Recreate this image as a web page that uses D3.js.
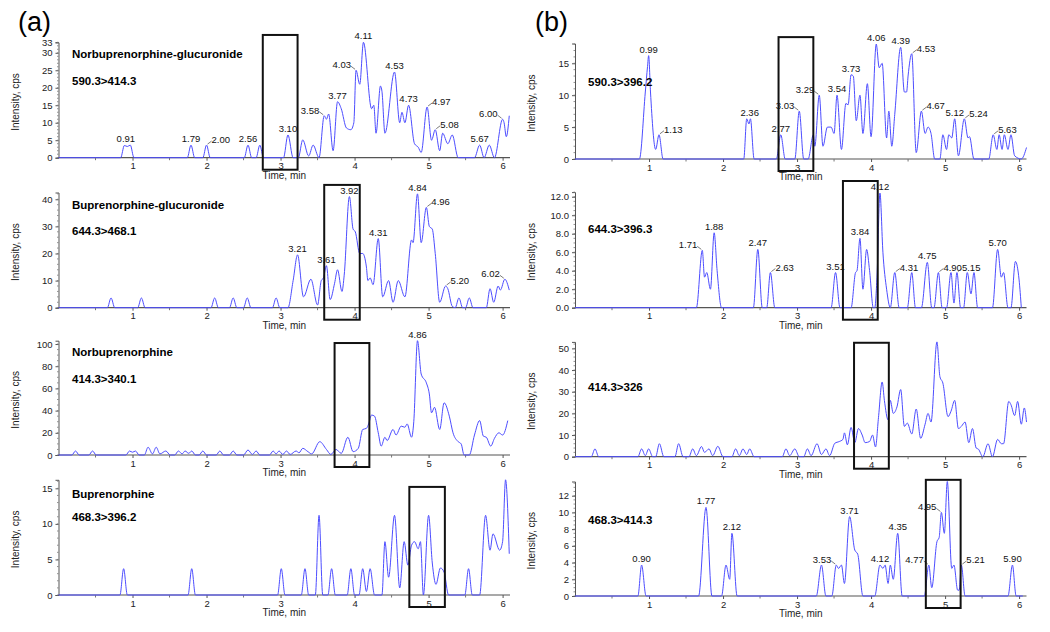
<!DOCTYPE html>
<html><head><meta charset="utf-8">
<script src="https://cdn.jsdelivr.net/npm/d3@7"></script>
<style>
body{margin:0;background:#fff;}
svg{display:block;font-family:"Liberation Sans",Arial,sans-serif;}
</style></head><body>
<svg id="chart" width="1050" height="632"></svg>
<script>
// ---------- DATA ----------
const traceA1 = [[0,0],[0.84,0],[0.89,3.5],[0.93,3.2],[0.97,3.6],[1.02,0],
 [1.74,0],[1.79,3.6],[1.84,0],[1.95,0],[2.0,3.6],[2.05,0],
 [2.51,0],[2.56,3.6],[2.61,0],[2.67,0],[2.72,3.6],[2.77,0],
 [3.04,0],[3.1,6.5],[3.17,0],[3.24,0],[3.30,5.1],[3.38,0.5],[3.44,3.6],[3.52,0],
 [3.59,12],[3.62,11],[3.65,12.5],[3.71,2],[3.77,16],[3.82,14],[3.89,8.5],[3.95,8],[3.99,10],[4.02,25],[4.07,21],[4.12,33],
 [4.23,14],[4.26,15],[4.29,7],[4.35,20.5],[4.37,19],[4.41,7],[4.54,24.5],[4.61,10],[4.64,13],[4.68,10],[4.73,15],
 [4.81,4],[4.86,3],[4.90,1.5],[4.98,14.5],[5.04,5],[5.09,8],[5.15,2],[5.19,7],[5.26,4],[5.32,6.5],[5.40,0],
 [5.62,0],[5.69,3.6],[5.75,0],[5.82,3.6],[5.89,0],[6.0,11],[6.02,10],[6.05,6],[6.09,12]];
const labelsA1 = [[0.91,3.6,"0.91","c"],[1.79,3.6,"1.79","c"],[2.0,3.6,"2.00","r"],[2.56,3.6,"2.56","c"],[3.1,6.5,"3.10","c"],
 [3.59,12,"3.58","l"],[3.77,16,"3.77","c"],[4.02,25,"4.03","l"],[4.12,33,"4.11","c"],[4.54,24.5,"4.53","c"],
 [4.73,15,"4.73","c"],[4.98,14.5,"4.97","r"],[5.09,8,"5.08","r"],[5.69,3.6,"5.67","c"],[6.0,11,"6.00","l"]];
const boxA1 = [2.76,3.23,35.1];
const ticksA1 = [0,5,10,15,20,25,30,33];

const traceA2 = [[0,0],[0.66,0],[0.71,3.6],[0.76,0],[1.07,0],[1.12,3.6],[1.17,0],
 [2.06,0],[2.11,3.6],[2.16,0],[2.31,0],[2.36,3.6],[2.41,0],[2.50,0],[2.55,3.6],[2.60,0],[2.89,0],[2.94,3.6],[2.99,0],
 [3.10,0],[3.17,10],[3.23,19.5],[3.31,4],[3.41,10.5],[3.50,1],[3.55,10],[3.58,11],[3.62,15.5],[3.67,3],[3.73,9],[3.77,14],
 [3.83,6],[3.86,12],[3.93,41],[3.98,29],[4.01,28],[4.07,20],[4.11,20],[4.16,15],[4.18,10],[4.21,11],[4.25,8.5],[4.32,25.5],
 [4.38,4],[4.46,10],[4.52,2],[4.59,10],[4.68,4],[4.77,25],[4.79,24],[4.85,42],[4.90,24],[4.97,37],[5.01,30],[5.05,29],
 [5.09,20],[5.15,2],[5.23,8],[5.26,7],[5.32,0.5],[5.36,0],[5.41,3.6],[5.46,0],[5.50,0],[5.55,3.6],[5.60,0],
 [5.78,0],[5.83,7],[5.88,2],[5.94,8],[5.97,6.5],[6.03,10.5],[6.09,6.5]];
const labelsA2 = [[3.23,19.5,"3.21","c"],[3.62,15.5,"3.61","c"],[3.93,41,"3.92","c"],[4.32,25.5,"4.31","c"],
 [4.85,42,"4.84","c"],[4.97,37,"4.96","r"],[5.23,8,"5.20","r"],[6.03,10.5,"6.02","l"]];
const boxA2 = [3.59,4.07,45.3];
const ticksA2 = [0,10,20,30,40];

const traceA3 = [[0,0],[0.18,0],[0.23,3.6],[0.28,0],[0.41,0],[0.46,3.6],[0.51,0],
 [0.91,0],[0.96,3.6],[1.0,2.5],[1.04,3.6],[1.09,0],
 [1.16,0],[1.21,7],[1.27,1],[1.32,7],[1.37,1],[1.45,3.6],[1.51,0],
 [1.57,0],[1.62,3.6],[1.67,1],[1.71,3.6],[1.76,1.5],[1.80,3.6],[1.85,0],[1.90,0],[1.95,3.6],[2.0,0],
 [2.13,0],[2.18,3.6],[2.23,0],[2.31,0],[2.36,3.6],[2.41,0],[2.50,0],[2.56,4.5],[2.62,0.5],[2.67,3.6],[2.72,0],
 [2.85,0],[2.9,3.6],[2.94,1],[2.98,3.6],[3.03,0.5],[3.08,3.6],[3.13,0.5],[3.21,3.6],[3.25,2],[3.30,6],[3.37,3],[3.42,1],
 [3.53,12],[3.62,5],[3.68,0.5],[3.75,5],[3.82,1.5],[3.91,16],[3.98,3],[4.05,6],[4.11,23],[4.16,24],[4.19,28],[4.23,36],
 [4.27,35],[4.32,20],[4.36,8],[4.41,16],[4.44,13],[4.52,23],[4.56,18],[4.63,26],[4.68,25],[4.71,28],[4.77,16],[4.80,30],
 [4.85,103],[4.90,73],[4.97,65],[5.01,55],[5.04,38],[5.08,43],[5.15,23],[5.21,47],[5.28,35],[5.33,20],[5.40,12],[5.44,10],
 [5.48,0],[5.55,0],[5.62,18],[5.69,31],[5.74,17],[5.78,16],[5.84,8],[5.89,15],[5.95,20],[6.0,18],[6.07,31]];
const labelsA3 = [[4.85,103,"4.86","c"]];
const boxA3 = [3.73,4.20,100.9];
const ticksA3 = [0,20,40,60,80,100];

const traceA4 = [[0,0],[0.83,0],[0.88,3.7],[0.93,0],[1.75,0],[1.80,3.7],[1.85,0],
 [2.96,0],[3.01,3.7],[3.06,0],[3.28,0],[3.33,3.7],[3.38,0],[3.47,0],[3.52,11.2],[3.57,0],
 [3.64,0],[3.69,3.7],[3.74,0],[3.90,0],[3.95,3.7],[4.0,0],[4.06,0],[4.11,3.7],[4.16,0.5],[4.21,3.7],[4.27,0],
 [4.37,0],[4.41,7.5],[4.46,2.5],[4.54,11.2],[4.61,1],[4.67,7.5],[4.72,4.2],[4.77,7],[4.81,7.5],[4.86,6.5],[4.89,7.5],
 [4.93,0],[5.00,11.2],[5.05,4.5],[5.10,1.5],[5.16,3.8],[5.21,3.2],[5.27,0],
 [5.49,0],[5.54,3.7],[5.59,0],[5.69,0],[5.77,11.2],[5.83,6.3],[5.87,8.6],[5.96,6.3],[6.0,7.5],[6.04,16.2],[6.09,5.8]];
const labelsA4 = [];
const boxA4 = [4.74,5.22,15.2];
const ticksA4 = [0,5,10,15];

const traceB1 = [[0,0],[0.87,0],[0.95,10.5],[0.98,14.5],[0.995,16.2],[1.02,10.5],[1.09,1.5],[1.135,3.8],[1.19,0],
 [2.28,0],[2.32,6.3],[2.35,5.5],[2.37,6.3],[2.42,0],[2.72,0],[2.78,3.8],[2.84,0],[2.97,0],[3.03,7.5],[3.09,0],
 [3.15,0],[3.22,3.8],[3.24,2],[3.30,10],[3.35,2],[3.41,5],[3.46,5],[3.50,4],[3.54,10],[3.60,1.5],[3.66,8.7],[3.69,8.5],
 [3.73,13.2],[3.76,13],[3.80,6],[3.85,10],[3.89,4],[3.95,11.8],[4.00,3.5],[4.07,18],[4.11,14.3],[4.15,15],[4.21,3.3],
 [4.24,7.5],[4.28,2],[4.32,7],[4.40,17.5],[4.45,10.5],[4.48,10.5],[4.50,13],[4.55,16.5],[4.61,1],[4.68,7.5],[4.73,4],
 [4.77,5],[4.81,4],[4.86,0],[4.93,0],[4.97,3.8],[5.02,1.5],[5.05,3.8],[5.09,3.3],[5.13,6.3],[5.18,0.5],[5.26,6.3],
 [5.31,3.3],[5.33,3.5],[5.39,0],[5.59,0],[5.65,3.8],[5.70,1.5],[5.73,3.8],[5.77,1.5],[5.80,3.8],[5.85,1.5],[5.89,3.8],
 [5.94,0.5],[6.03,0],[6.10,1.8]];
const labelsB1 = [[0.995,16.2,"0.99","c"],[1.135,3.8,"1.13","r"],[2.36,6.3,"2.36","c"],[2.78,3.8,"2.77","c"],
 [3.03,7.5,"3.03","l"],[3.30,10,"3.29","l"],[3.54,10,"3.54","c"],[3.73,13.2,"3.73","c"],[4.07,18,"4.06","c"],
 [4.40,17.5,"4.39","c"],[4.55,16.5,"4.53","r"],[4.68,7.5,"4.67","r"],[5.13,6.3,"5.12","c"],[5.26,6.3,"5.24","r"],
 [5.65,3.8,"5.63","r"]];
const boxB1 = [2.75,3.22,19.1];
const ticksB1 = [0,5,10,15];

const traceB2 = [[0,0],[1.64,0],[1.72,6.2],[1.75,3.3],[1.78,3.8],[1.83,2],[1.88,8.1],[1.92,4],[1.98,0],
 [2.41,0],[2.47,6.3],[2.53,0],[2.59,0],[2.64,3.8],[2.70,0],[3.46,0],[3.52,3.8],[3.58,0],
 [3.73,0],[3.79,3.8],[3.81,4],[3.85,7.5],[3.89,2],[3.94,6.3],[3.98,4],[4.03,0],[4.05,0],[4.08,3.3],[4.12,12.4],
 [4.16,6],[4.21,2],[4.26,0],[4.32,3.8],[4.38,0],[4.49,0],[4.55,3.8],[4.60,0],[4.68,0],[4.76,4.9],[4.82,0],
 [4.85,0],[4.91,3.8],[4.96,0],[5.02,0],[5.08,3.8],[5.12,0.5],[5.16,3.8],[5.21,0],[5.25,0],[5.30,3.8],[5.35,1.5],
 [5.39,3.8],[5.44,0],[5.64,0],[5.71,6.3],[5.76,3.3],[5.79,3.8],[5.85,0],[5.89,0],[5.95,5],[6.0,3],[6.03,0]];
const labelsB2 = [[1.72,6.2,"1.71","l"],[1.88,8.1,"1.88","c"],[2.47,6.3,"2.47","c"],[2.64,3.8,"2.63","r"],
 [3.52,3.8,"3.51","c"],[3.85,7.5,"3.84","c"],[4.12,12.4,"4.12","c"],[4.32,3.8,"4.31","r"],[4.76,4.9,"4.75","c"],
 [4.91,3.8,"4.90","r"],[5.16,3.8,"5.15","r"],[5.71,6.3,"5.70","c"]];
const boxB2 = [3.62,4.09,13.7];
const ticksB2 = [0,2,4,6,8,10,12];

const traceB3 = [[0,0],[0.22,0],[0.27,3.6],[0.32,0],[0.85,0],[0.90,3.6],[0.95,0.5],[0.995,3.6],[1.05,0],
 [1.09,0],[1.14,6],[1.20,0],[1.35,0],[1.40,6],[1.46,0],
 [1.54,0],[1.59,3.6],[1.64,0.5],[1.71,4.7],[1.75,2],[1.81,3.6],[1.86,0.5],[1.93,4.8],[2.0,0],
 [2.12,0],[2.17,3.6],[2.22,0.5],[2.27,3.6],[2.32,1],[2.36,3.6],[2.42,0],[2.80,0],[2.85,3.6],[2.90,0.5],[2.97,3.6],[3.03,0],
 [3.09,0],[3.14,3.6],[3.19,0.5],[3.27,6],[3.33,1],[3.39,3.6],[3.44,0.5],[3.51,6.2],[3.57,7],[3.62,8],[3.64,11],[3.68,5.5],
 [3.73,13.5],[3.78,6.5],[3.83,13],[3.88,10],[3.92,6.5],[3.98,7],[4.02,10],[4.06,4.5],[4.10,18],[4.15,34.5],[4.18,26],
 [4.23,17],[4.26,26],[4.30,20],[4.35,23],[4.40,31],[4.45,14],[4.49,15.5],[4.55,10.5],[4.61,22],[4.67,8.5],[4.73,15],
 [4.77,20],[4.81,16],[4.89,53],[4.93,37],[4.97,34],[5.04,18.5],[5.08,21],[5.13,26],[5.18,13],[5.22,14],[5.27,16],
 [5.32,6.5],[5.37,13],[5.42,4],[5.45,3.5],[5.51,0],[5.58,6],[5.64,0],[5.71,8],[5.76,6],[5.79,6],[5.86,25.5],[5.89,24],
 [5.94,19],[5.98,25.5],[6.03,15],[6.07,22.5],[6.10,16]];
const labelsB3 = [];
const boxB3 = [3.77,4.24,52.6];
const ticksB3 = [0,10,20,30,40,50];

const traceB4 = [[0,0],[0.85,0],[0.90,3.7],[0.96,0],[1.67,0],[1.77,10.6],[1.85,0],
 [1.98,0],[2.04,3.7],[2.09,2],[2.12,7.5],[2.19,0],[3.26,0],[3.33,3.7],[3.39,0],
 [3.47,0],[3.53,3.7],[3.56,3.3],[3.60,3.7],[3.64,1.5],[3.71,9.5],[3.78,5.5],[3.82,5],[3.89,0],
 [4.05,0],[4.12,3.7],[4.16,3.3],[4.19,3.7],[4.23,1.5],[4.26,3.7],[4.30,2],[4.36,7.5],[4.42,0],
 [4.72,0],[4.78,3.7],[4.82,1],[4.89,6.5],[4.92,7],[4.95,10],[4.99,7.5],[5.03,13.7],[5.09,3.3],[5.12,3.7],
 [5.17,0.7],[5.19,0.7],[5.22,3.7],[5.27,0],[5.85,0],[5.91,3.7],[5.96,0],[6.05,0]];
const labelsB4 = [[0.90,3.7,"0.90","c"],[1.77,10.6,"1.77","c"],[2.12,7.5,"2.12","c"],[3.53,3.7,"3.53","l"],
 [3.71,9.5,"3.71","c"],[4.12,3.7,"4.12","c"],[4.36,7.5,"4.35","c"],[4.78,3.7,"4.77","l"],[4.95,10,"4.95","l"],
 [5.22,3.7,"5.21","r"],[5.91,3.7,"5.90","c"]];
const boxB4 = [4.74,5.21,13.9];
const ticksB4 = [0,2,4,6,8,10,12];

const xMajorTicks = [1,2,3,4,5,6];
const xMinorTicks = [0.5,1.5,2.5,3.5,4.5,5.5];
const panelLetters = ["(a)","(b)"];

// ---------- LAYOUT ----------
const panels = [
 {trace:traceA1,labels:labelsA1,box:boxA1,ticks:ticksA1,max:33,minor:1,fmt:d3.format("d"),col:0,y0:157.7,y1:42.3,name:"Norbuprenorphine-glucuronide",mrm:"590.3>414.3",nameY:57.5,mrmY:84.5},
 {trace:traceA2,labels:labelsA2,box:boxA2,ticks:ticksA2,max:42.5,minor:2,fmt:d3.format("d"),col:0,y0:307.7,y1:192.5,name:"Buprenorphine-glucuronide",mrm:"644.3>468.1",nameY:208.5,mrmY:234.5},
 {trace:traceA3,labels:labelsA3,box:boxA3,ticks:ticksA3,max:103,minor:5,fmt:d3.format("d"),col:0,y0:455,y1:340.7,name:"Norbuprenorphine",mrm:"414.3>340.1",nameY:356,mrmY:382.5},
 {trace:traceA4,labels:labelsA4,box:boxA4,ticks:ticksA4,max:16.2,minor:1,fmt:d3.format("d"),col:0,y0:595,y1:479.8,name:"Buprenorphine",mrm:"468.3>396.2",nameY:497.5,mrmY:521},
 {trace:traceB1,labels:labelsB1,box:boxB1,ticks:ticksB1,max:18.1,minor:1,fmt:d3.format("d"),col:1,y0:159,y1:43.5,name:null,mrm:"590.3>396.2",mrmY:85.5},
 {trace:traceB2,labels:labelsB2,box:boxB2,ticks:ticksB2,max:12.5,minor:0.5,fmt:d3.format(".1f"),col:1,y0:307.7,y1:192.1,name:null,mrm:"644.3>396.3",mrmY:232.8},
 {trace:traceB3,labels:labelsB3,box:boxB3,ticks:ticksB3,max:53,minor:2,fmt:d3.format("d"),col:1,y0:456.7,y1:341.9,name:null,mrm:"414.3>326",mrmY:391},
 {trace:traceB4,labels:labelsB4,box:boxB4,ticks:ticksB4,max:13.7,minor:0.5,fmt:d3.format("d"),col:1,y0:596,y1:481.5,name:null,mrm:"468.3>414.3",mrmY:523.5}
];
const colX = [[58.5,510],[575,1026.5]];
const colTitleX = [72,588];
const colYLabelX = [19,535];
const letterX = [18,535];

const svg = d3.select("#chart");
const lineColor = "#4d4dff";

panelLetters.forEach((t,i)=>{
  svg.append("text").attr("x",letterX[i]).attr("y",31).attr("font-size",27).attr("fill","#000").text(t);
});

panels.forEach(p=>{
  const x = d3.scaleLinear().domain([0,6.1]).range(colX[p.col]);
  const y = d3.scaleLinear().domain([0,p.max]).range([p.y0,p.y1]);
  const g = svg.append("g");
  const x0 = colX[p.col][0];

  // y axis
  const yAxis = d3.axisLeft(y).tickValues(p.ticks).tickFormat(p.fmt).tickSize(3).tickPadding(3);
  const ya = g.append("g").attr("transform",`translate(${x0},0)`).call(yAxis);
  ya.select(".domain").attr("stroke","#555").attr("stroke-width",1);
  ya.selectAll(".tick line").attr("stroke","#555");
  ya.selectAll(".tick text").attr("font-size",9.5).attr("fill","#222").attr("font-family","Liberation Sans, Arial, sans-serif");
  const minors = d3.range(0,p.max+1e-9,p.minor);
  g.append("g").selectAll("line").data(minors).join("line")
    .attr("x1",x0-1.5).attr("x2",x0).attr("y1",d=>y(d)).attr("y2",d=>y(d)).attr("stroke","#777").attr("stroke-width",0.8);

  // x axis
  const xAxis = d3.axisBottom(x).tickValues(xMajorTicks).tickFormat(d3.format("d")).tickSize(3).tickPadding(2);
  const xa = g.append("g").attr("transform",`translate(0,${p.y0})`).call(xAxis);
  xa.select(".domain").attr("stroke","#555").attr("stroke-width",1.2).attr("d",`M${colX[p.col][0]},0H${colX[p.col][1]}`);
  xa.selectAll(".tick line").attr("stroke","#555");
  xa.selectAll(".tick text").attr("font-size",9.5).attr("fill","#222").attr("font-family","Liberation Sans, Arial, sans-serif");
  g.append("g").selectAll("line").data(xMinorTicks).join("line")
    .attr("x1",d=>x(d)).attr("x2",d=>x(d)).attr("y1",p.y0).attr("y2",p.y0+2.5).attr("stroke","#777");

  // axis titles
  g.append("text").attr("x",(colX[p.col][0]+colX[p.col][1])/2).attr("y",p.y0+21)
    .attr("text-anchor","middle").attr("font-size",10).attr("fill","#222").text("Time, min");
  const ym = (p.y0+p.y1)/2+2;
  g.append("text").attr("transform",`translate(${colYLabelX[p.col]},${ym}) rotate(-90)`)
    .attr("text-anchor","middle").attr("font-size",10).attr("fill","#222").text("Intensity, cps");

  // trace
  const line = d3.line().x(d=>x(d[0])).y(d=>y(d[1])).curve(d3.curveMonotoneX);
  g.append("path").datum(p.trace).attr("d",line).attr("fill","none").attr("stroke",lineColor).attr("stroke-width",1);

  // peak labels
  p.labels.forEach(([t,v,txt,side])=>{
    const px = x(t), py = y(v);
    if(side==="c"){
      g.append("text").attr("x",px).attr("y",py-3).attr("text-anchor","middle").attr("font-size",9.5).attr("fill","#111").text(txt);
    } else if(side==="l"){
      g.append("line").attr("x1",px-5).attr("y1",py-4).attr("x2",px-1).attr("y2",py-1).attr("stroke","#444").attr("stroke-width",0.7);
      g.append("text").attr("x",px-5).attr("y",py-2).attr("text-anchor","end").attr("font-size",9.5).attr("fill","#111").text(txt);
    } else {
      g.append("line").attr("x1",px+1).attr("y1",py-1).attr("x2",px+5).attr("y2",py-4).attr("stroke","#444").attr("stroke-width",0.7);
      g.append("text").attr("x",px+5).attr("y",py-2).attr("text-anchor","start").attr("font-size",9.5).attr("fill","#111").text(txt);
    }
  });

  // highlight box
  const [b0,b1,bTop] = p.box;
  g.append("rect").attr("x",x(b0)).attr("y",y(bTop)).attr("width",x(b1)-x(b0)).attr("height",p.y0+12-y(bTop))
    .attr("fill","none").attr("stroke","#111").attr("stroke-width",2);

  // titles
  if(p.name){
    g.append("text").attr("x",colTitleX[p.col]).attr("y",p.nameY).attr("font-size",11.5).attr("font-weight","bold").attr("fill","#000").text(p.name);
  }
  g.append("text").attr("x",colTitleX[p.col]).attr("y",p.mrmY).attr("font-size",11.5).attr("font-weight","bold").attr("fill","#000").text(p.mrm);
});
</script>
</body></html>
